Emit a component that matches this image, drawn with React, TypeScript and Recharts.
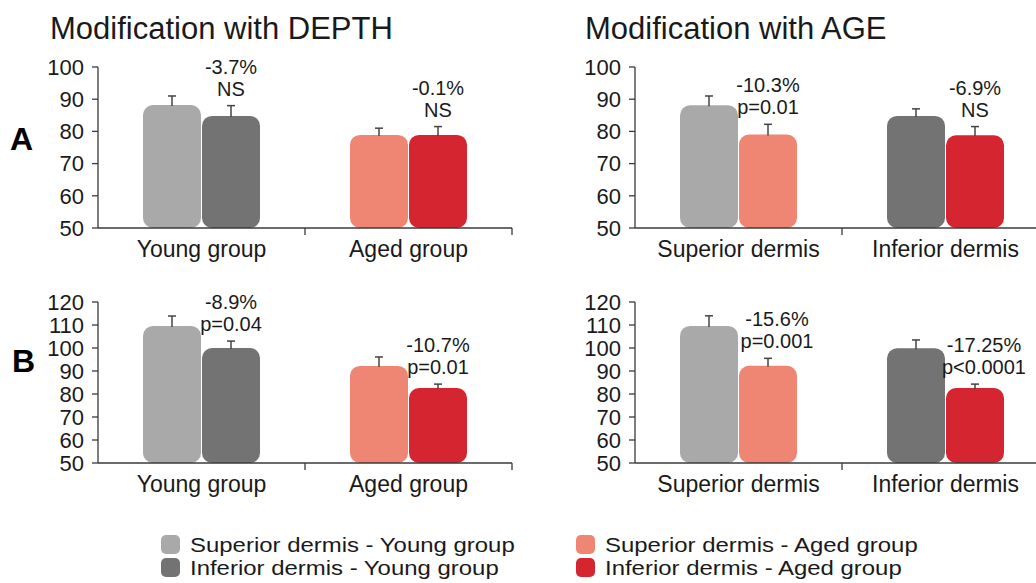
import { BarChart, Bar, XAxis, YAxis, Cell, LabelList } from 'recharts';

const FONT = "'Liberation Sans', Arial, Helvetica, sans-serif";
const INK = '#1a1a1a';
const AXIS = '#3a3a3a';

const LIGHT_GRAY = '#a9a9a9';
const DARK_GRAY = '#737373';
const SALMON = '#ef8673';
const RED = '#d42530';

// category labels
const depthCategories = ['Young group', 'Aged group'];
const ageCategories = ['Superior dermis', 'Inferior dermis'];

// y axis ticks
const ticksA = [50, 60, 70, 80, 90, 100];
const ticksB = [50, 60, 70, 80, 90, 100, 110, 120];

// row A, modification with depth (superior / inferior dermis)
const depthASuperior = [88.2, 78.9];
const depthASuperiorErr = [2.8, 2.1];
const depthAInferior = [84.8, 78.9];
const depthAInferiorErr = [3.2, 2.6];
const depthAChange = ['-3.7%', '-0.1%'];
const depthAStat = ['NS', 'NS'];

// row A, modification with age (young / aged group)
const ageAYoung = [88.1, 84.8];
const ageAYoungErr = [2.9, 2.2];
const ageAAged = [79.0, 78.8];
const ageAAgedErr = [3.2, 2.7];
const ageAChange = ['-10.3%', '-6.9%'];
const ageAStat = ['p=0.01', 'NS'];

// row B, modification with depth
const depthBSuperior = [109.6, 92.2];
const depthBSuperiorErr = [4.3, 3.9];
const depthBInferior = [100.0, 82.6];
const depthBInferiorErr = [3.0, 1.7];
const depthBChange = ['-8.9%', '-10.7%'];
const depthBStat = ['p=0.04', 'p=0.01'];

// row B, modification with age
const ageBYoung = [109.6, 99.9];
const ageBYoungErr = [4.4, 3.6];
const ageBAged = [92.3, 82.6];
const ageBAgedErr = [3.2, 1.7];
const ageBChange = ['-15.6%', '-17.25%'];
const ageBStat = ['p=0.001', 'p<0.0001'];

const legendLabels = [
  'Superior dermis - Young group',
  'Inferior dermis - Young group',
  'Superior dermis - Aged group',
  'Inferior dermis - Aged group',
];
const legendColors = [LIGHT_GRAY, DARK_GRAY, SALMON, RED];

const BAND = 207;
const BASE = 50;

function CategoryTick({ x, y, payload }: any) {
  return (
    <g>
      <line x1={x + BAND / 2} y1={y} x2={x + BAND / 2} y2={y + 7} stroke={AXIS} strokeWidth={1.3} />
      <text x={x} y={y + 21} textAnchor="middle" dominantBaseline="central" fontSize={23} fill={INK} fontFamily={FONT}>
        {payload.value}
      </text>
    </g>
  );
}

// top of the error whisker, in pixels, from the bar's own geometry
function errorTop(props: any, err: number) {
  const unit = Number(props.height) / (Number(props.value) - BASE);
  return Number(props.y) - err * unit;
}

function makeErrorMark(errs: number[]) {
  return (props: any) => {
    const { x, y, width, index } = props;
    const top = errorTop(props, errs[index]);
    const cx = Number(x) + Number(width) / 2;
    return (
      <g key={`err-${index}`}>
        <line x1={cx} y1={Number(y) + 1} x2={cx} y2={top} stroke="#444" strokeWidth={1.5} />
        <line x1={cx - 4} y1={top} x2={cx + 4} y2={top} stroke="#444" strokeWidth={1.5} />
      </g>
    );
  };
}

function makeAnnotation(errs: number[], change: string[], stat: string[], shift: number) {
  return (props: any) => {
    const { x, width, index } = props;
    const top = errorTop(props, errs[index]);
    const cx = Number(x) + Number(width) / 2 + shift;
    return (
      <g key={`annot-${index}`}>
        <text x={cx} y={top - 39} textAnchor="middle" dominantBaseline="central" fontSize={20} fill={INK} fontFamily={FONT}>
          {change[index]}
        </text>
        <text x={cx} y={top - 17} textAnchor="middle" dominantBaseline="central" fontSize={20} fill={INK} fontFamily={FONT}>
          {stat[index]}
        </text>
      </g>
    );
  };
}

interface PanelProps {
  left: number;
  top: number;
  height: number;
  marginTop: number;
  categories: string[];
  first: number[];
  firstErr: number[];
  firstColors: string[];
  second: number[];
  secondErr: number[];
  secondColors: string[];
  change: string[];
  stat: string[];
  ticks: number[];
  shift?: number;
}

function Panel(p: PanelProps) {
  const data = p.categories.map((name, i) => ({
    name,
    first: p.first[i],
    second: p.second[i],
  }));
  const max = p.ticks[p.ticks.length - 1];
  return (
    <div style={{ position: 'absolute', left: p.left, top: p.top }}>
      <BarChart
        width={520}
        height={p.height}
        data={data}
        margin={{ top: p.marginTop, right: 8, bottom: 0, left: 0 }}
        barSize={58}
        barGap={1}
      >
        <XAxis
          dataKey="name"
          height={40}
          tickSize={0}
          tickMargin={0}
          tick={<CategoryTick />}
          axisLine={{ stroke: AXIS, strokeWidth: 1.3 }}
          interval={0}
        />
        <YAxis
          width={98}
          domain={[BASE, max]}
          ticks={p.ticks}
          interval={0}
          tickSize={6}
          tickMargin={8}
          tick={{ fontSize: 22, fill: INK, fontFamily: FONT }}
          tickLine={{ stroke: AXIS, strokeWidth: 1.3 }}
          axisLine={{ stroke: AXIS, strokeWidth: 1.3 }}
          allowDataOverflow
        />
        <Bar dataKey="first" radius={10} isAnimationActive={false}>
          {data.map((d, i) => (
            <Cell key={`f-${i}`} fill={p.firstColors[i]} />
          ))}
          <LabelList dataKey="first" content={makeErrorMark(p.firstErr)} />
        </Bar>
        <Bar dataKey="second" radius={10} isAnimationActive={false}>
          {data.map((d, i) => (
            <Cell key={`s-${i}`} fill={p.secondColors[i]} />
          ))}
          <LabelList dataKey="second" content={makeErrorMark(p.secondErr)} />
          <LabelList dataKey="second" content={makeAnnotation(p.secondErr, p.change, p.stat, p.shift ?? 0)} />
        </Bar>
      </BarChart>
    </div>
  );
}

const titleStyle: React.CSSProperties = {
  position: 'absolute',
  fontSize: 31,
  lineHeight: '31px',
  color: INK,
  whiteSpace: 'nowrap',
};

const rowLabelStyle: React.CSSProperties = {
  position: 'absolute',
  fontSize: 32,
  lineHeight: '32px',
  fontWeight: 'bold',
  color: '#000',
};

export default function App() {
  return (
    <div
      style={{
        position: 'absolute',
        left: 0,
        top: 0,
        width: 1036,
        height: 583,
        overflow: 'hidden',
        background: '#fff',
        fontFamily: FONT,
      }}
    >
      <div style={{ ...titleStyle, left: 50, top: 13 }}>Modification with DEPTH</div>
      <div style={{ ...titleStyle, left: 585, top: 13 }}>Modification with AGE</div>
      <div style={{ ...rowLabelStyle, left: 10, top: 123 }}>A</div>
      <div style={{ ...rowLabelStyle, left: 12, top: 345 }}>B</div>

      <Panel
        left={0}
        top={0}
        height={268}
        marginTop={67}
        categories={depthCategories}
        first={depthASuperior}
        firstErr={depthASuperiorErr}
        firstColors={[LIGHT_GRAY, SALMON]}
        second={depthAInferior}
        secondErr={depthAInferiorErr}
        secondColors={[DARK_GRAY, RED]}
        change={depthAChange}
        stat={depthAStat}
        ticks={ticksA}
      />
      <Panel
        left={537}
        top={0}
        height={268}
        marginTop={67}
        categories={ageCategories}
        first={ageAYoung}
        firstErr={ageAYoungErr}
        firstColors={[LIGHT_GRAY, DARK_GRAY]}
        second={ageAAged}
        secondErr={ageAAgedErr}
        secondColors={[SALMON, RED]}
        change={ageAChange}
        stat={ageAStat}
        ticks={ticksA}
      />
      <Panel
        left={0}
        top={270}
        height={233}
        marginTop={32}
        categories={depthCategories}
        first={depthBSuperior}
        firstErr={depthBSuperiorErr}
        firstColors={[LIGHT_GRAY, SALMON]}
        second={depthBInferior}
        secondErr={depthBInferiorErr}
        secondColors={[DARK_GRAY, RED]}
        change={depthBChange}
        stat={depthBStat}
        ticks={ticksB}
      />
      <Panel
        left={537}
        top={270}
        height={233}
        marginTop={32}
        categories={ageCategories}
        first={ageBYoung}
        firstErr={ageBYoungErr}
        firstColors={[LIGHT_GRAY, DARK_GRAY]}
        second={ageBAged}
        secondErr={ageBAgedErr}
        secondColors={[SALMON, RED]}
        change={ageBChange}
        stat={ageBStat}
        ticks={ticksB}
        shift={9}
      />

      {[0, 1].map((col) => (
        <div key={col} style={{ position: 'absolute', left: col === 0 ? 161 : 576, top: 533 }}>
          {[0, 1].map((row) => {
            const i = col * 2 + row;
            return (
              <div key={row} style={{ display: 'flex', alignItems: 'center', height: 23 }}>
                <div
                  style={{
                    width: 19,
                    height: 19,
                    borderRadius: 5,
                    background: legendColors[i],
                    marginRight: 10,
                    flexShrink: 0,
                  }}
                />
                <span
                  style={{
                    display: 'inline-block',
                    fontSize: 21,
                    lineHeight: '21px',
                    color: INK,
                    whiteSpace: 'nowrap',
                    transform: 'scaleX(1.14)',
                    transformOrigin: 'left center',
                  }}
                >
                  {legendLabels[i]}
                </span>
              </div>
            );
          })}
        </div>
      ))}
    </div>
  );
}
